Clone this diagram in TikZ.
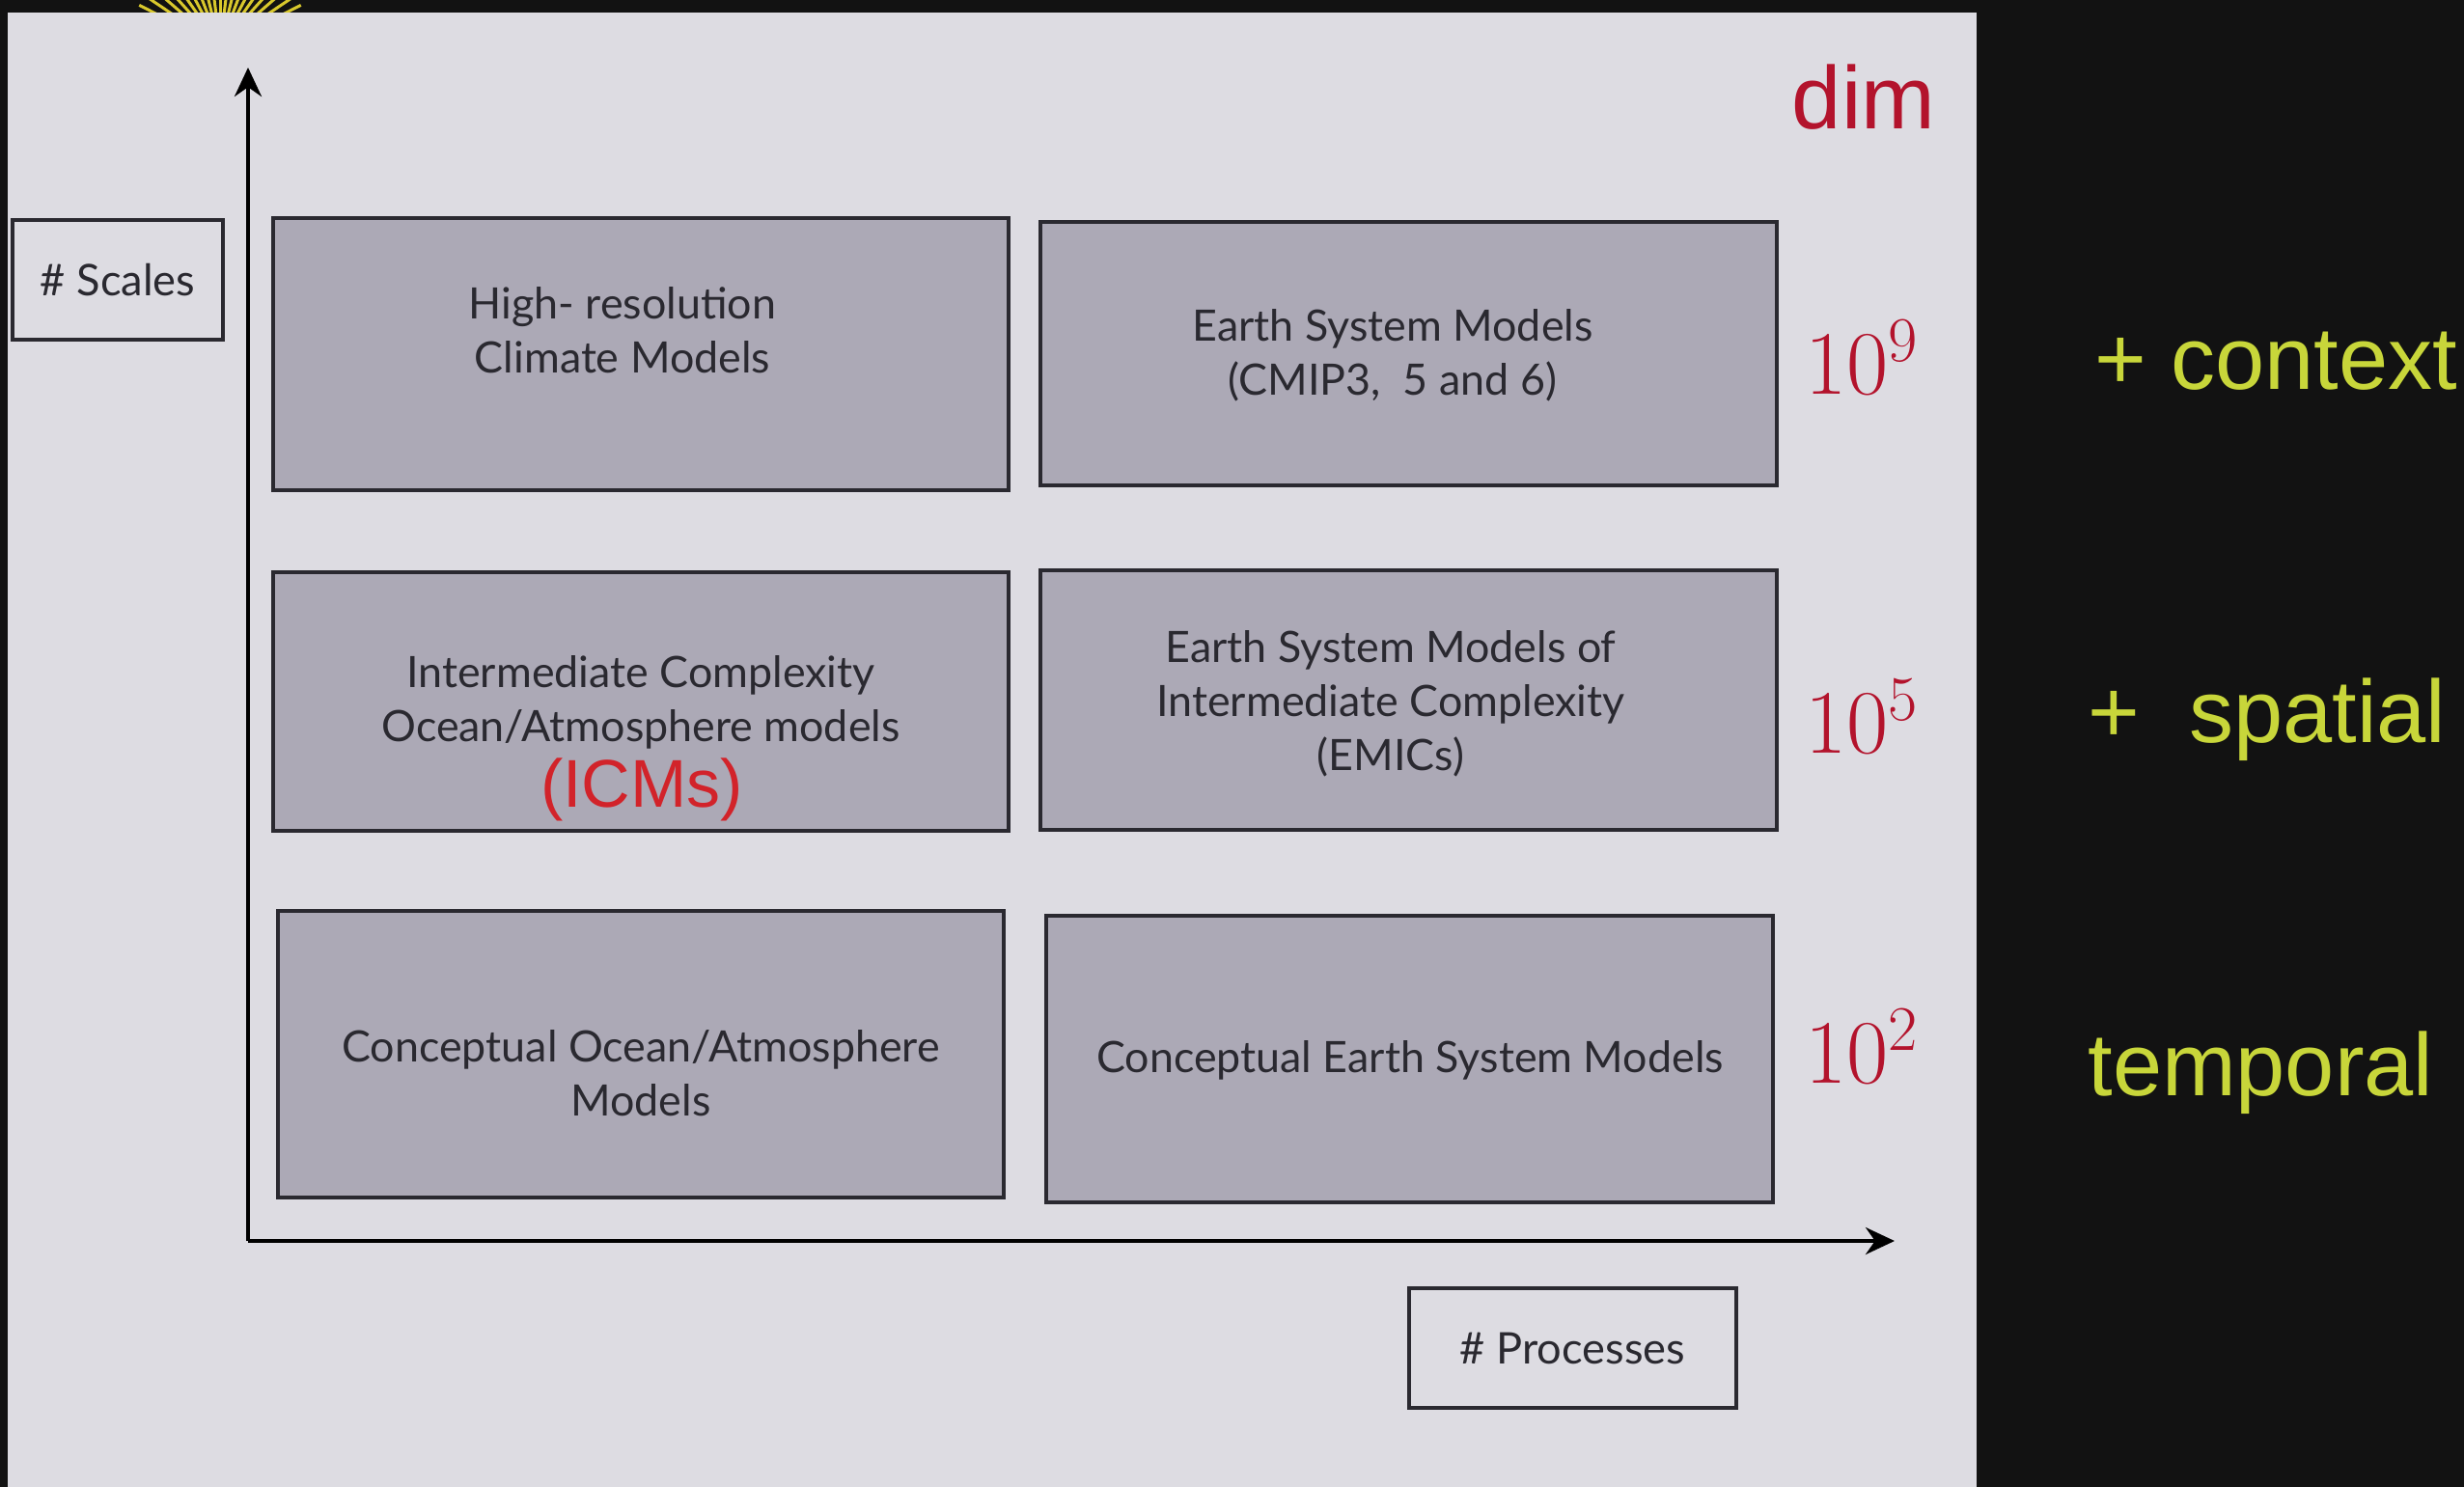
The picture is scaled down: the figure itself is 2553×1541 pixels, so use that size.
\RequirePackage{fix-cm}
\documentclass[tikz,border=0pt]{standalone}
\usepackage{fontspec}
\setmainfont{Lato}
\newfontfamily\headfont{Liberation Sans}
\usetikzlibrary{arrows.meta}

\definecolor{screen}{HTML}{121212}
\definecolor{slide}{HTML}{DDDCE2}
\definecolor{boxfill}{HTML}{ACA9B6}
\definecolor{boxline}{HTML}{2A2930}
\definecolor{dimred}{HTML}{B3132C}
\definecolor{icmred}{HTML}{D2232A}
\definecolor{lime}{HTML}{C8D63A}
\definecolor{ray}{HTML}{D8C82C}

\tikzset{
  modelbox/.style={draw=boxline, line width=1.6pt, fill=boxfill, inner sep=0pt},
  axislabel/.style={draw=boxline, line width=1.6pt, fill=slide, inner sep=0pt,
    font=\fontsize{22.6}{28}\selectfont, text=boxline},
  modeltext/.style={inner sep=0pt, align=center, text=boxline,
    font=\fontsize{22.4}{28}\selectfont},
  power/.style={inner sep=0pt, text=dimred, font=\fontsize{47}{50}\selectfont},
  sidenote/.style={inner sep=0pt, text=lime, anchor=west,
    font=\headfont\fontsize{46}{50}\selectfont},
  axis/.style={line width=2pt, draw=black, -{Stealth[length=15pt, width=14pt]}}
}

\begin{document}
\begin{tikzpicture}[x=0.5pt, y=-0.5pt]
  % dark screen and the slide on it
  \fill[screen] (0,0) rectangle (2553,1541);
  \useasboundingbox (0,0) rectangle (2553,1541);
  \foreach \a in {20,27,...,160}
    \draw[ray, line width=1.5pt] (228,48) ++(-\a:22) -- ++(-\a:72);
  \fill[slide] (8,13) rectangle (2048,1541);

  % model boxes
  \node[modelbox, minimum width=381pt, minimum height=141pt]   (hr)   at (664,367)    {};
  \node[modelbox, minimum width=381.5pt, minimum height=136.5pt] (esm) at (1459.5,366.5) {};
  \node[modelbox, minimum width=381pt, minimum height=134pt]   (icm)  at (664,727)    {};
  \node[modelbox, minimum width=381.5pt, minimum height=134.5pt] (emic) at (1459.5,725.5) {};
  \node[modelbox, minimum width=376pt, minimum height=148.5pt] (coa)  at (664,1092.5) {};
  \node[modelbox, minimum width=376.5pt, minimum height=148.5pt] (ces) at (1460.5,1097.5) {};

  % box texts
  \node[modeltext] (hrt)   at (645,342)  {High- resolution\\Climate Models};
  \node[modeltext] (esmt)  at (1443,368) {Earth System Models\\(CMIP3,\ \ 5 and 6)};
  \node[modeltext] (icmt)  at (664,728)  {Intermediate Complexity\\Ocean/Atmosphere models};
  \node[inner sep=0pt, text=icmred, font=\headfont\fontsize{35}{40}\selectfont]
        (icms) at (665,818) {(ICMs)};
  \node[modeltext] (emict) at (1441,729) {Earth System Models of\\Intermediate Complexity\\(EMICs)};
  \node[modeltext] (coat)  at (664,1112) {Conceptual Ocean/Atmosphere\\Models};
  \node[modeltext] (cest)  at (1461,1099) {Conceptual Earth System Models};

  % axes
  \coordinate (origin) at (257,1286);
  \coordinate (ytip) at (257,70);
  \coordinate (xtip) at (1963,1286);
  \draw[axis] (origin) -- (ytip);
  \draw[axis] (origin) -- (xtip);

  % axis labels
  \node[axislabel, minimum width=109pt, minimum height=62pt] (scales) at (122,290) {\# Scales};
  \node[axislabel, minimum width=169.5pt, minimum height=62pt] (procs) at (1629.5,1397) {\# Processes};

  % dimension column
  \node[inner sep=0pt, text=dimred, font=\headfont\fontsize{46}{50}\selectfont]
        (dim) at (1931,101) {dim};
  \node[power] (p9) at (1929,370)  {$10^9$};
  \node[power] (p5) at (1929,742)  {$10^5$};
  \node[power] (p2) at (1929,1084) {$10^2$};

  % notes on the dark side
  \node[sidenote] (ctx)  at (2170,374)  {+ context};
  \node[sidenote] (spat) at (2163,746)  {+\ \ spatial};
  \node[sidenote] (temp) at (2163,1112) {temporal};
\end{tikzpicture}
\end{document}
